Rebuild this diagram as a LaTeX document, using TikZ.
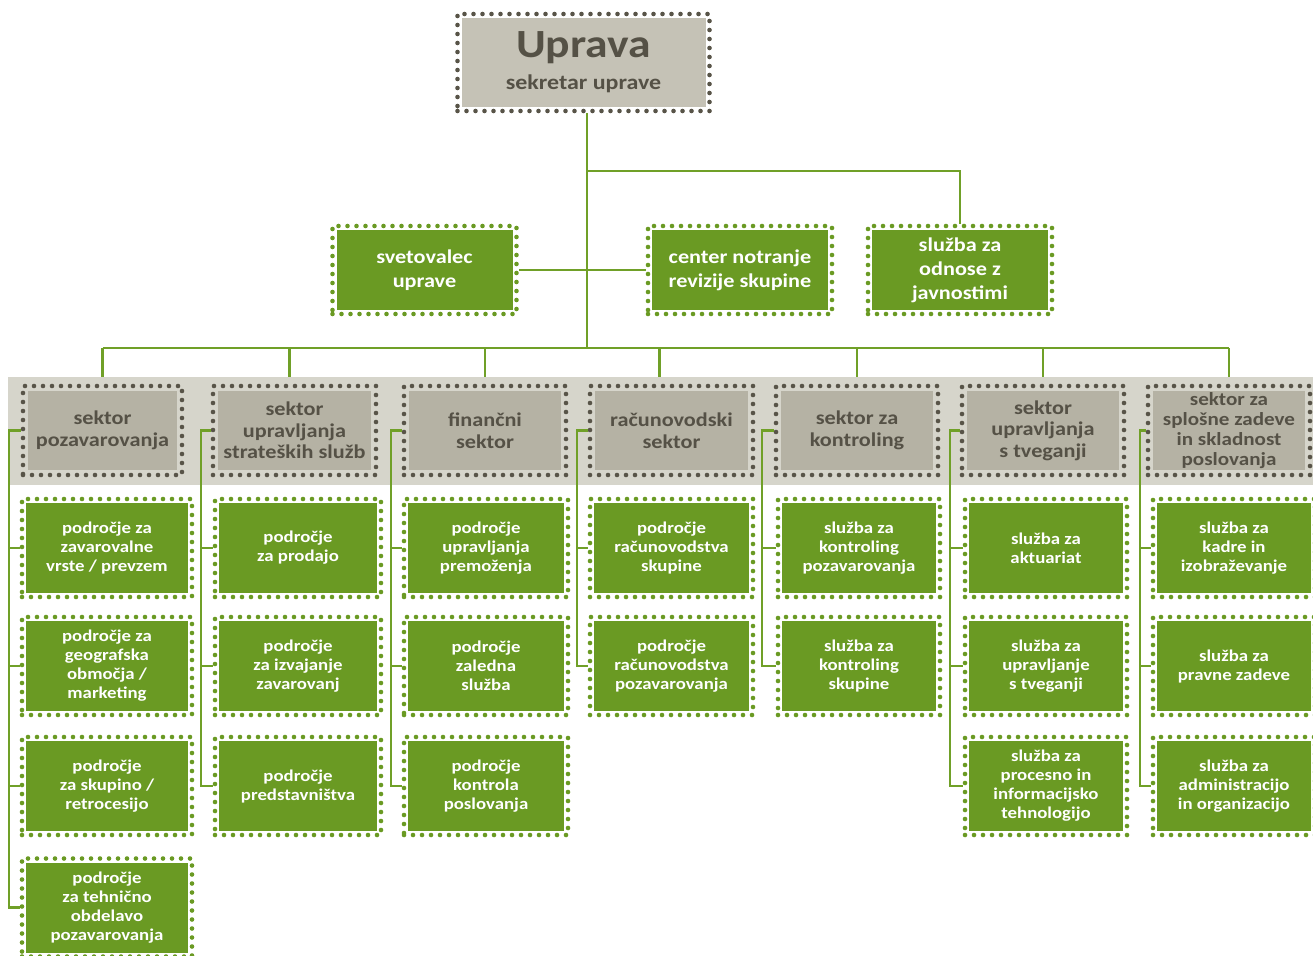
\documentclass[tikz,border=0pt]{standalone}
\usepackage{fontspec}
\setmainfont{Carlito}[FakeStretch=1.14]

\definecolor{unitgreen}{RGB}{106,154,35}
\definecolor{linegreen}{RGB}{112,160,40}
\definecolor{dotgray}{RGB}{88,84,72}
\definecolor{textgray}{RGB}{85,81,70}
\definecolor{headgray}{RGB}{197,194,182}
\definecolor{sectgray}{RGB}{181,178,164}
\definecolor{bandgray}{RGB}{214,213,203}

% filled panel set back from the dotted frame
\newcommand{\insetfill}[2]{\fill[#1] ([shift={(#2,#2)}]path picture bounding box.south west) rectangle ([shift={(-#2,-#2)}]path picture bounding box.north east);}

\tikzstyle{frame} = [rectangle, inner sep=0pt, align=center, line width=4.6pt, line cap=round, dash pattern=on 0pt off 9pt]
\tikzstyle{head} = [frame, draw=dotgray, text=textgray, minimum width=252pt, minimum height=97pt, font=\bfseries\fontsize{21}{26}\selectfont, path picture={\insetfill{headgray}{4pt}}]
\tikzstyle{staff} = [frame, draw=unitgreen, text=white, minimum width=184pt, minimum height=88pt, font=\bfseries\fontsize{19.5}{24}\selectfont, path picture={\insetfill{unitgreen}{4pt}}]
\tikzstyle{sector} = [frame, draw=dotgray, text=textgray, minimum height=89pt, font=\bfseries\fontsize{19.5}{21.5}\selectfont, path picture={\insetfill{sectgray}{5pt}}]
\tikzstyle{unit} = [frame, draw=unitgreen, text=white, minimum height=98pt, font=\bfseries\fontsize{16.5}{19}\selectfont, path picture={\insetfill{unitgreen}{4pt}}]
\tikzstyle{band} = [rectangle, fill=bandgray, inner sep=0pt, minimum width=1320pt, minimum height=108pt]
\tikzstyle{link} = [draw=linegreen, line width=2.4pt]

\begin{document}
\begin{tikzpicture}[x=1pt, y=-1pt]
\useasboundingbox (0,0) rectangle (1313,955);

% board
\node[head] (top) at (583.5,62.5) {{\fontsize{40}{42}\selectfont Uprava}\\[6pt]sekretar uprave};

% staff units
\node[staff] (advisor) at (424.5,270) {svetovalec\\uprave};
\node[staff] (audit) at (740,270) {center notranje\\revizije skupine};
\node[staff] (pr) at (960,270) {služba za\\odnose z\\javnostimi};

\coordinate (fork) at (587,171);
\coordinate (bus) at (587,348);
\draw[link] (top.south -| bus) -- (bus);
\draw[link] (fork) -| (pr.north);
\draw[link] (advisor.east) -- (audit.west);

% sectors
\node[band] (band) at (668,431) {};
\node[sector, minimum width=159pt] (s1) at (102.5,430.5) {sektor\\pozavarovanja};
\node[sector, minimum width=163pt] (s2) at (294.5,430.5) {sektor\\upravljanja\\strateških služb};
\node[sector, minimum width=162pt] (s3) at (485,430.5) {finančni\\sektor};
\node[sector, minimum width=163pt] (s4) at (671.5,430.5) {računovodski\\sektor};
\node[sector, minimum width=162pt] (s5) at (857,430.5) {sektor za\\kontroling};
\node[sector, minimum width=162pt] (s6) at (1043,430.5) {sektor\\upravljanja\\s tveganji};
\node[sector, minimum width=162pt, font=\bfseries\fontsize{18.5}{20}\selectfont] (s7) at (1229,430.5) {sektor za\\splošne zadeve\\in skladnost\\poslovanja};

\draw[link] (s1.north |- bus) -- (s7.north |- bus);
\draw[link] (s1.north |- bus) -- (s1.north |- band.north);
\draw[link] (s2.north |- bus) ++(-5,0) -- +(0,29);
\draw[link] (s3.north |- bus) -- (s3.north |- band.north);
\draw[link] (s4.north |- bus) ++(-12,0) -- +(0,29);
\draw[link] (s5.north |- bus) -- (s5.north |- band.north);
\draw[link] (s6.north |- bus) -- (s6.north |- band.north);
\draw[link] (s7.north |- bus) -- (s7.north |- band.north);

% sektor pozavarovanja
\node[unit, minimum width=170pt] (c11) at (107,548) {področje za\\zavarovalne\\vrste / prevzem};
\node[unit, minimum width=170pt] (c12) at (107,666) {področje za\\geografska\\območja /\\marketing};
\node[unit, minimum width=170pt] (c13) at (107,786) {področje\\za skupino /\\retrocesijo};
\node[unit, minimum width=170pt] (c14) at (107,907.5) {področje\\za tehnično\\obdelavo\\pozavarovanja};

% sektor upravljanja strateskih sluzb
\node[unit, minimum width=166pt] (c21) at (298,548) {področje\\za prodajo};
\node[unit, minimum width=166pt] (c22) at (298,666) {področje\\za izvajanje\\zavarovanj};
\node[unit, minimum width=166pt] (c23) at (298,786) {področje\\predstavništva};

% financni sektor
\node[unit, minimum width=164pt] (c31) at (486,548) {področje\\upravljanja\\premoženja};
\node[unit, minimum width=164pt] (c32) at (486,666) {področje\\zaledna\\služba};
\node[unit, minimum width=164pt] (c33) at (486,786) {področje\\kontrola\\poslovanja};

% racunovodski sektor
\node[unit, minimum width=163pt] (c41) at (671.5,548) {področje\\računovodstva\\skupine};
\node[unit, minimum width=163pt] (c42) at (671.5,666) {področje\\računovodstva\\pozavarovanja};

% sektor za kontroling
\node[unit, minimum width=162pt] (c51) at (859,548) {služba za\\kontroling\\pozavarovanja};
\node[unit, minimum width=162pt] (c52) at (859,666) {služba za\\kontroling\\skupine};

% sektor upravljanja s tveganji
\node[unit, minimum width=162pt] (c61) at (1046,548) {služba za\\aktuariat};
\node[unit, minimum width=162pt] (c62) at (1046,666) {služba za\\upravljanje\\s tveganji};
\node[unit, minimum width=162pt] (c63) at (1046,786) {služba za\\procesno in\\informacijsko\\tehnologijo};

% sektor za splosne zadeve
\node[unit, minimum width=162pt] (c71) at (1234,548) {služba za\\kadre in\\izobraževanje};
\node[unit, minimum width=162pt] (c72) at (1234,666) {služba za\\pravne zadeve};
\node[unit, minimum width=162pt] (c73) at (1234,786) {služba za\\administracijo\\in organizacijo};

% sector to unit lines
\coordinate (l1) at ([xshift=-12pt]s1.west);
\draw[link] (s1.west) -- (l1) |- (c14.west);
\draw[link] (l1 |- c11.west) -- (c11.west);
\draw[link] (l1 |- c12.west) -- (c12.west);
\draw[link] (l1 |- c13.west) -- (c13.west);

\coordinate (l2) at ([xshift=-10pt]s2.west);
\draw[link] (s2.west) -- (l2) |- (c23.west);
\draw[link] (l2 |- c21.west) -- (c21.west);
\draw[link] (l2 |- c22.west) -- (c22.west);

\coordinate (l3) at ([xshift=-11pt]s3.west);
\draw[link] (s3.west) -- (l3) |- (c33.west);
\draw[link] (l3 |- c31.west) -- (c31.west);
\draw[link] (l3 |- c32.west) -- (c32.west);

\coordinate (l4) at ([xshift=-11pt]s4.west);
\draw[link] (s4.west) -- (l4) |- (c42.west);
\draw[link] (l4 |- c41.west) -- (c41.west);

\coordinate (l5) at ([xshift=-12pt]s5.west);
\draw[link] (s5.west) -- (l5) |- (c52.west);
\draw[link] (l5 |- c51.west) -- (c51.west);

\coordinate (l6) at ([xshift=-10pt]s6.west);
\draw[link] (s6.west) -- (l6) |- (c63.west);
\draw[link] (l6 |- c61.west) -- (c61.west);
\draw[link] (l6 |- c62.west) -- (c62.west);

\coordinate (l7) at ([xshift=-6pt]s7.west);
\draw[link] (s7.west) -- (l7) |- (c73.west);
\draw[link] (l7 |- c71.west) -- (c71.west);
\draw[link] (l7 |- c72.west) -- (c72.west);
\end{tikzpicture}
\end{document}
